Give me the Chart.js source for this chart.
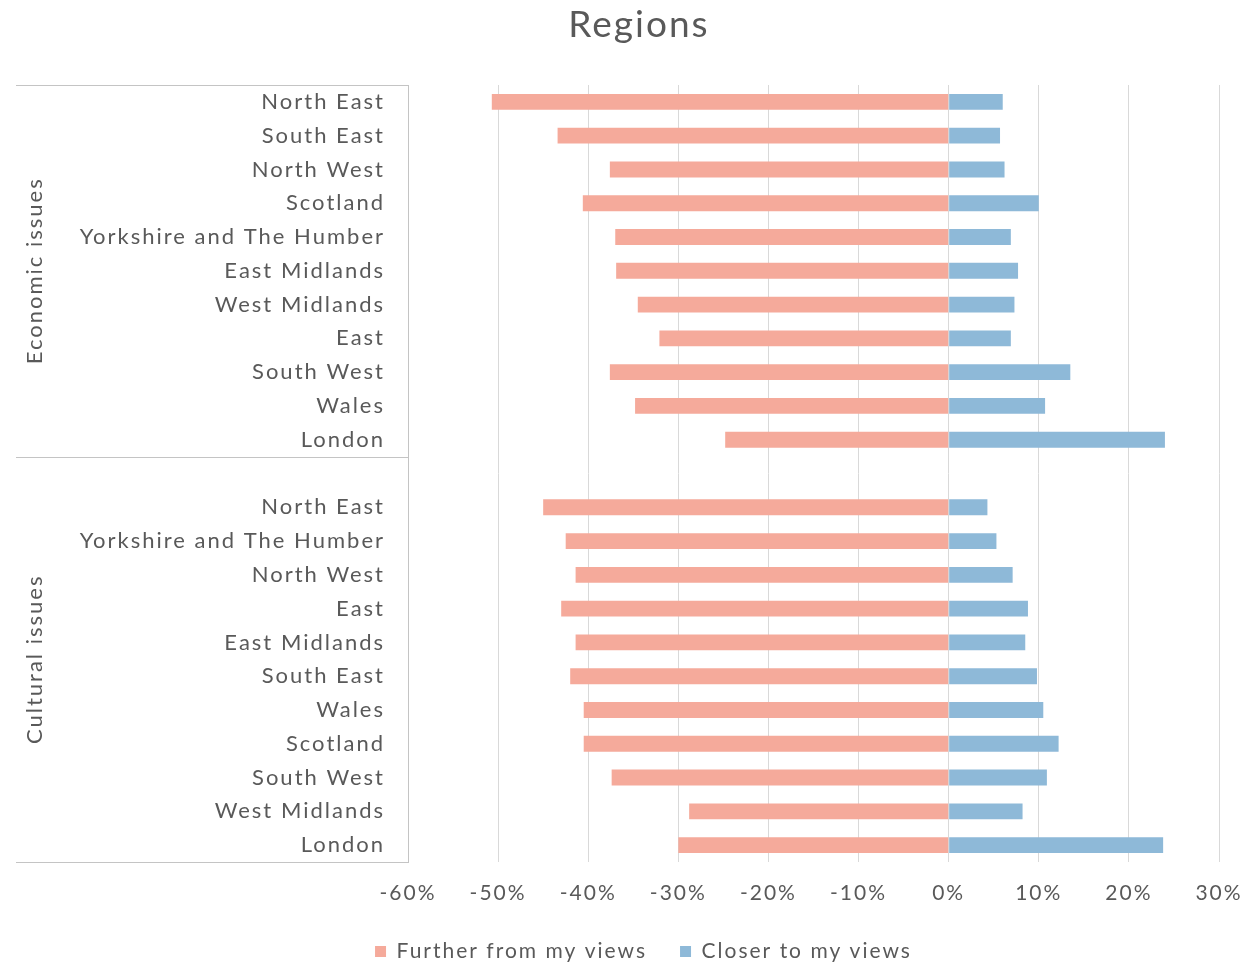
<!DOCTYPE html>
<html>
<head>
<meta charset="utf-8">
<title>Regions</title>
<script src="https://cdn.jsdelivr.net/npm/chart.js@4.4.1/dist/chart.umd.min.js"></script>
<style>
  html, body { margin: 0; padding: 0; background: #fff; }
</style>
</head>
<body>
<canvas id="regionsChart" width="1246" height="966"></canvas>
<script>
// Economic issues block, top to bottom
const economicRegions = ['North East', 'South East', 'North West', 'Scotland', 'Yorkshire and The Humber', 'East Midlands', 'West Midlands', 'East', 'South West', 'Wales', 'London'];
const economicFurther = [-50.7, -43.4, -37.6, -40.6, -37.0, -36.9, -34.5, -32.1, -37.6, -34.8, -24.8];
const economicCloser = [6.0, 5.7, 6.2, 10.0, 6.9, 7.7, 7.3, 6.9, 13.5, 10.7, 24.0];

// Cultural issues block, top to bottom
const culturalRegions = ['North East', 'Yorkshire and The Humber', 'North West', 'East', 'East Midlands', 'South East', 'Wales', 'Scotland', 'South West', 'West Midlands', 'London'];
const culturalFurther = [-45.0, -42.5, -41.4, -43.0, -41.4, -42.0, -40.5, -40.5, -37.4, -28.8, -30.0];
const culturalCloser = [4.3, 5.3, 7.1, 8.8, 8.5, 9.8, 10.5, 12.2, 10.9, 8.2, 23.8];

const groupNames = ['Economic issues', 'Cultural issues'];
const seriesNames = ['Further from my views', 'Closer to my views'];
const xTicks = [-60, -50, -40, -30, -20, -10, 0, 10, 20, 30];
const chartTitle = 'Regions';

const FONT = 'Lato';
const TEXT = '#595959';
const LINE = '#c4c4c4';

// one empty row sits between the two blocks
const categories = [...economicRegions, '', ...culturalRegions];
const further = [...economicFurther, null, ...culturalFurther];
const closer = [...economicCloser, null, ...culturalCloser];

// the house font is set a little wider than Lato, so track it out
const tracking = {
    id: 'tracking',
    beforeUpdate(chart) { chart.ctx.letterSpacing = '2px'; },
    beforeDraw(chart) { chart.ctx.letterSpacing = '2px'; }
};

// Heading, group brackets and rotated group names on the left
const groupBrackets = {
    id: 'groupBrackets',
    afterDraw(chart) {
        const { ctx, chartArea, scales: { y } } = chart;
        const step = y.getPixelForValue(1) - y.getPixelForValue(0);
        const bounds = [
            y.getPixelForValue(0) - step / 2,
            y.getPixelForValue(economicRegions.length) - step / 2,
            y.getPixelForValue(categories.length - 1) + step / 2
        ];
        ctx.save();
        ctx.strokeStyle = LINE;
        ctx.lineWidth = 1;
        bounds.forEach(b => {
            const yy = Math.round(b) + 0.5;
            ctx.beginPath();
            ctx.moveTo(16, yy);
            ctx.lineTo(chartArea.left, yy);
            ctx.stroke();
        });

        ctx.fillStyle = TEXT;
        ctx.textAlign = 'center';
        ctx.textBaseline = 'middle';
        ctx.font = `22px ${FONT}`;
        groupNames.forEach((name, i) => {
            const mid = (bounds[i] + bounds[i + 1]) / 2;
            ctx.save();
            ctx.translate(35, mid);
            ctx.rotate(-Math.PI / 2);
            ctx.fillText(name, 0, 0);
            ctx.restore();
        });

        ctx.font = `37px ${FONT}`;
        ctx.fillText(chartTitle, 639, 25);
        ctx.restore();
    }
};

Chart.defaults.font.family = FONT;
Chart.defaults.font.size = 22;
Chart.defaults.color = TEXT;

const ctx = document.getElementById('regionsChart').getContext('2d');
const regionsChart = new Chart(ctx, {
    type: 'bar',
    data: {
        labels: categories,
        datasets: [
            { label: seriesNames[0], data: further, backgroundColor: '#f5aa9b', categoryPercentage: 1, barPercentage: 0.47 },
            { label: seriesNames[1], data: closer, backgroundColor: '#8eb9d8', categoryPercentage: 1, barPercentage: 0.47 }
        ]
    },
    options: {
        indexAxis: 'y',
        responsive: false,
        animation: false,
        layout: { padding: { top: 85, right: 27, bottom: -6, left: 68 } },
        scales: {
            x: {
                stacked: true,
                min: xTicks[0],
                max: xTicks[xTicks.length - 1],
                afterFit: scale => {
                    scale.height = 46;
                    scale.paddingLeft = 0;
                    scale.paddingRight = 0;
                },
                afterBuildTicks: scale => { scale.ticks = xTicks.map(v => ({ value: v })); },
                ticks: { padding: 19, font: { size: 21 }, callback: v => v + '%' },
                grid: { color: '#d9d9d9', drawTicks: false },
                border: { display: false }
            },
            y: {
                stacked: true,
                afterFit: scale => {
                    scale.width = 340;
                    scale.paddingTop = 0;
                    scale.paddingBottom = 0;
                },
                ticks: { padding: 23, autoSkip: false },
                grid: { display: false, drawTicks: false },
                border: { display: true, color: LINE }
            }
        },
        plugins: {
            legend: {
                position: 'bottom',
                labels: { boxWidth: 11, boxHeight: 11, padding: 33, font: { size: 21 } }
            },
            tooltip: { enabled: false }
        }
    },
    plugins: [tracking, groupBrackets]
});
</script>
</body>
</html>
